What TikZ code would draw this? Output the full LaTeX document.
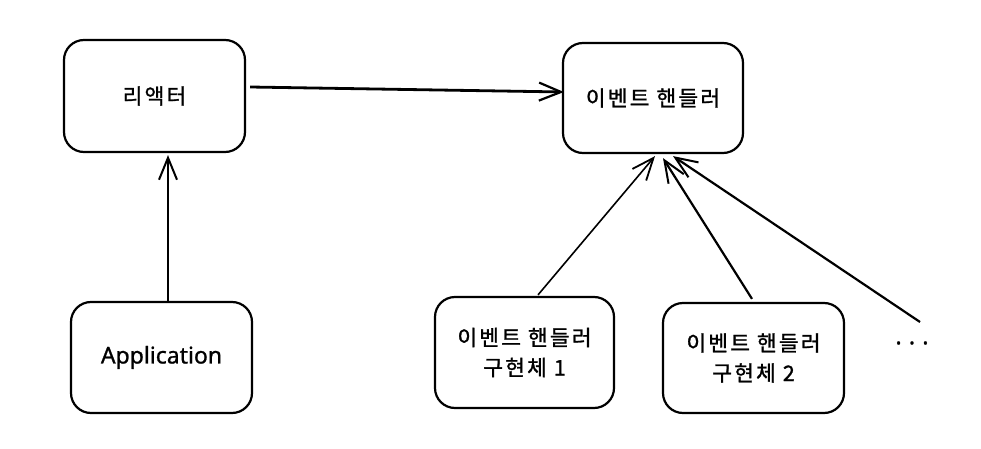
\documentclass[tikz,border=0pt]{standalone}
\usepackage{fontspec}
\setmainfont{Noto Sans CJK KR}[LetterSpace=10,FakeBold=1.2]
\newfontfamily\latinfont{Noto Sans}[FakeBold=1]
\usetikzlibrary{arrows.meta}
\tikzset{
  box/.style={draw, line width=2.2pt, rounded corners=20pt, inner sep=0pt,
    align=center, font=\fontsize{21.5}{30}\selectfont},
  arr/.style={line width=2.2pt, -{Straight Barb[length=22pt,width=18pt,line width=2pt]}},
  thickarr/.style={line width=2.8pt, -{Straight Barb[length=22pt,width=18pt,line width=2.2pt]}},
  thinarr/.style={line width=1.6pt, -{Straight Barb[length=22pt,width=18pt,line width=1.8pt]}}
}
\begin{document}
\begin{tikzpicture}[x=1pt,y=-1pt]
\useasboundingbox[fill=white] (0,0) rectangle (981,449);
\node[box, minimum width=181pt, minimum height=112pt] (reactor) at (154.5,96) {리액터};
\node[box, minimum width=180pt, minimum height=110pt] (handler) at (653,98) {이벤트 핸들러};
\node[box, minimum width=181pt, minimum height=111pt, font=\latinfont\fontsize{23}{24}\selectfont] (app) at (161.5,357.5) {Application};
\node[box, minimum width=179pt, minimum height=111pt] (impl1) at (524.5,352.5) {이벤트 핸들러\\구현체 1};
\node[box, minimum width=181pt, minimum height=110pt] (impl2) at (753.5,358) {이벤트 핸들러\\구현체 2};
\node[font=\latinfont\fontsize{24}{24}\selectfont, inner sep=0pt] (dots) at (912,343) {.\hspace{7pt}.\hspace{7pt}.};
\coordinate (dstart) at (920,322);

\draw[arr] ([xshift=6.5pt]app.north) -- ([xshift=13.5pt,yshift=-2pt]reactor.south);
\draw[thickarr] ([xshift=4pt,yshift=9pt]reactor.east) -- ([xshift=2pt,yshift=6pt]handler.west);
\draw[thinarr] ([xshift=13.5pt,yshift=1pt]impl1.north) -- ([xshift=2pt,yshift=-2pt]handler.south);
\draw[arr] ([xshift=-1.5pt,yshift=3pt]impl2.north) -- ([xshift=10pt,yshift=-4pt]handler.south);
\draw[arr] (dstart) -- ([xshift=20pt,yshift=-2pt]handler.south);
\end{tikzpicture}
\end{document}
